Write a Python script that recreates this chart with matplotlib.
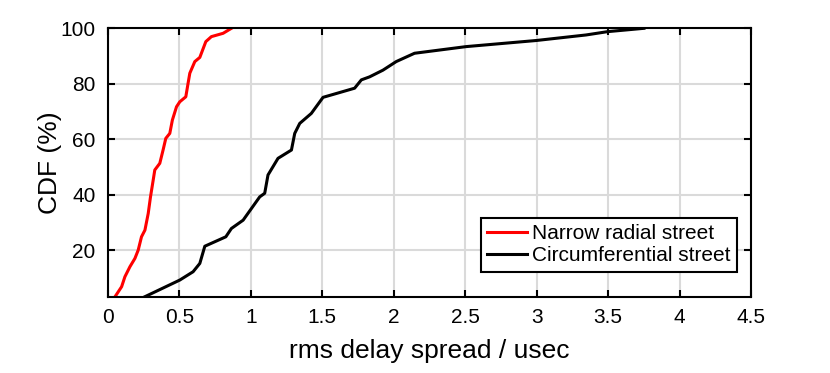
import numpy as np
import matplotlib.pyplot as plt

plt.rcParams['font.family'] = ['Liberation Sans', 'DejaVu Sans']

# CDF of rms delay spread (usec)
narrow_x = [0.05, 0.096, 0.119, 0.154, 0.189, 0.212, 0.235, 0.259, 0.282, 0.298,
            0.317, 0.328, 0.363, 0.386, 0.405, 0.433, 0.451, 0.48, 0.503, 0.545,
            0.561, 0.573, 0.608, 0.643, 0.685, 0.724, 0.806, 0.864]
narrow_y = [3.2, 6.8, 10.4, 14.0, 17.0, 20.0, 24.8, 27.2, 33.2, 39.2,
            45.3, 48.9, 51.3, 56.1, 60.3, 62.1, 66.9, 71.7, 73.5, 75.3,
            80.2, 83.8, 88.0, 89.5, 95.2, 97.0, 98.2, 100.0]

circ_x = [0.259, 0.503, 0.596, 0.643, 0.678, 0.825, 0.864, 0.946, 1.004, 1.062,
          1.097, 1.12, 1.19, 1.284, 1.307, 1.342, 1.423, 1.505, 1.726, 1.773,
          1.831, 1.924, 2.017, 2.145, 2.506, 2.996, 3.345, 3.496, 3.75]
circ_y = [3.2, 9.2, 12.2, 15.2, 21.4, 24.8, 27.8, 30.8, 35.0, 39.2,
          40.5, 47.1, 53.1, 56.1, 62.1, 65.7, 69.3, 75.1, 78.4, 81.4,
          82.5, 84.9, 88.0, 91.0, 93.4, 95.6, 97.6, 98.8, 100.0]

fig = plt.figure(figsize=(8.3, 3.73), dpi=100)
ax = fig.add_axes([0.130, 0.2046, 0.775, 0.7195])

ax.plot(narrow_x, narrow_y, color='red', lw=2.2, label='Narrow radial street')
ax.plot(circ_x, circ_y, color='black', lw=2.2, label='Circumferential street')

ax.set_xlim(0, 4.5)
ax.set_ylim(3.2, 100)
ax.set_xticks(np.arange(0, 4.51, 0.5))
ax.set_xticklabels(['0', '0.5', '1', '1.5', '2', '2.5', '3', '3.5', '4', '4.5'])
ax.set_yticks([20, 40, 60, 80, 100])
ax.grid(True, color='#dadada', lw=1.5)
ax.set_axisbelow(True)
ax.tick_params(direction='in', top=True, right=True, length=5, width=1.5,
               labelsize=15)
ax.tick_params(axis='x', pad=8)
ax.tick_params(axis='y', pad=9)
for s in ax.spines.values():
    s.set_linewidth(1.5)

ax.set_xlabel('rms delay spread / usec', fontsize=19, labelpad=9)
ax.set_ylabel('CDF (%)', fontsize=19, labelpad=-1)

leg = ax.legend(loc='lower right', fontsize=15, fancybox=False, framealpha=1,
                edgecolor='black', handlelength=1.9, borderpad=0.3,
                labelspacing=0.15, handletextpad=0.25, borderaxespad=0,
                bbox_to_anchor=(0.978, 0.093))
leg.get_frame().set_linewidth(1.5)

fig.savefig('out.png', dpi=100)
